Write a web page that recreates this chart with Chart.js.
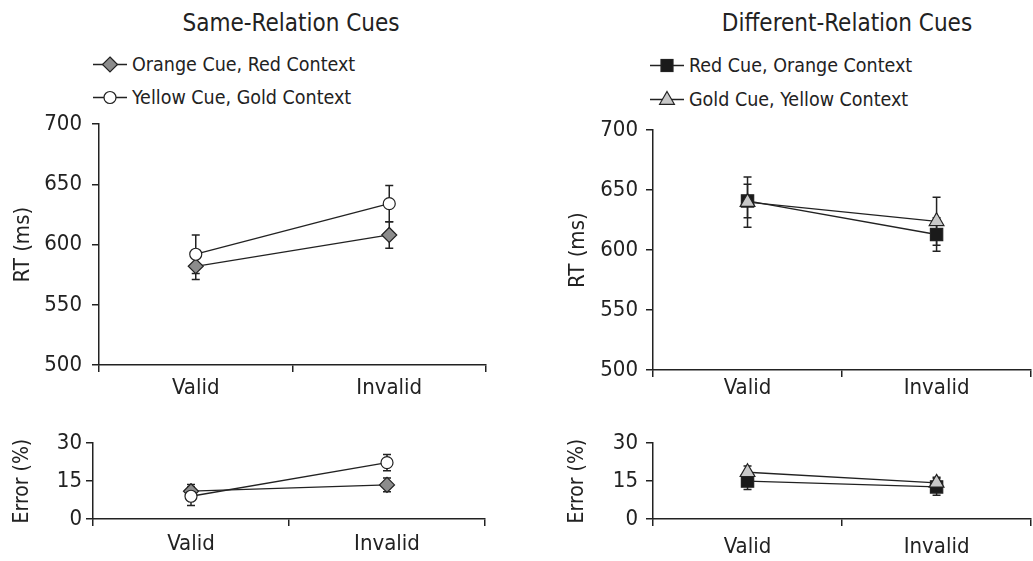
<!DOCTYPE html>
<html>
<head>
<meta charset="utf-8">
<script src="https://cdn.jsdelivr.net/npm/chart.js@4.4.1/dist/chart.umd.min.js"></script>
<style>
  html, body { margin: 0; padding: 0; background: #fff; overflow: hidden; }
  body { width: 1033px; height: 561px; position: relative; font-family: "DejaVu Sans Condensed", "DejaVu Sans", sans-serif; color: #222; }
  .panel { position: absolute; }
  .title { position: absolute; font-size: 24px; white-space: nowrap; transform: translateX(-50%); }
  .legend-item { position: absolute; font-size: 19.5px; white-space: nowrap; display: flex; align-items: center; }
  .legend-item svg { margin-right: 5px; }
</style>
</head>
<body>
<div class="title" style="left:291px; top:9px;">Same-Relation Cues</div>
<div class="title" style="left:847px; top:9px;">Different-Relation Cues</div>
<div id="legendSame"></div>
<div id="legendDiff"></div>

<div class="panel" style="left:0; top:101px;"><canvas id="sameRT" width="500" height="309"></canvas></div>
<div class="panel" style="left:560px; top:109px;"><canvas id="diffRT" width="481" height="306"></canvas></div>
<div class="panel" style="left:0; top:426px;"><canvas id="sameErr" width="500" height="135"></canvas></div>
<div class="panel" style="left:560px; top:422px;"><canvas id="diffErr" width="481" height="139"></canvas></div>

<script>
// cue conditions on the x axis
const categories = ['Valid', 'Invalid'];
const sameNames = ['Orange Cue, Red Context', 'Yellow Cue, Gold Context'];
const diffNames = ['Red Cue, Orange Context', 'Gold Cue, Yellow Context'];

// reaction times (ms) and error bar half-widths
const orangeRedRT = [582, 608];
const orangeRedRTBar = [11, 11];
const yellowGoldRT = [592, 634];
const yellowGoldRTBar = [16, 15];
const redOrangeRT = [641, 613];
const redOrangeRTBar = [14, 14];
const goldYellowRT = [640, 624];
const goldYellowRTBar = [21, 20];

// error rates (%) and error bar half-widths
const orangeRedErr = [11, 13.5];
const orangeRedErrBar = [2.7, 2.7];
const yellowGoldErr = [9, 22.3];
const yellowGoldErrBar = [3.7, 3.2];
const redOrangeErr = [15, 12.7];
const redOrangeErrBar = [3.3, 3.3];
const goldYellowErr = [18.5, 14.3];
const goldYellowErrBar = [2.5, 2.2];

const rtTicks = [500, 550, 600, 650, 700];
const errTicks = [0, 15, 30];

const FONT = '"DejaVu Sans Condensed", "DejaVu Sans", sans-serif';
const INK = '#222';

// marker styles per condition
const styles = {
  orangeRed: { pointStyle: 'rectRot', radius: 7.5, fill: '#8c8c8c' },
  yellowGold: { pointStyle: 'circle', radius: 6, fill: '#ffffff' },
  redOrange: { pointStyle: 'rect', radius: 8.7, fill: '#1a1a1a' },
  goldYellow: { pointStyle: 'triangle', radius: 8.5, fill: '#c8c8c8' }
};

// vertical error bars with caps, drawn under the markers
const errorBars = {
  id: 'errorBars',
  beforeDatasetsDraw(chart) {
    const ctx = chart.ctx;
    const yScale = chart.scales.y;
    chart.data.datasets.forEach((ds, i) => {
      const meta = chart.getDatasetMeta(i);
      meta.data.forEach((pt, j) => {
        const v = ds.data[j];
        const e = ds.bars[j];
        const top = yScale.getPixelForValue(v + e);
        const bot = yScale.getPixelForValue(v - e);
        ctx.save();
        ctx.strokeStyle = INK;
        ctx.lineWidth = 1.5;
        ctx.beginPath();
        ctx.moveTo(pt.x, top); ctx.lineTo(pt.x, bot);
        ctx.moveTo(pt.x - 4, top); ctx.lineTo(pt.x + 4, top);
        ctx.moveTo(pt.x - 4, bot); ctx.lineTo(pt.x + 4, bot);
        ctx.stroke();
        ctx.restore();
      });
    });
  }
};

function makeDataset(label, values, bars, style, order) {
  return {
    label: label,
    data: values,
    bars: bars,
    order: order,
    borderColor: INK,
    borderWidth: 1.3,
    pointStyle: style.pointStyle,
    pointRadius: style.radius,
    pointBackgroundColor: style.fill,
    pointBorderColor: INK,
    pointBorderWidth: 1.2,
    tension: 0,
    fill: false
  };
}

function makeChart(id, datasets, opts) {
  const ctx = document.getElementById(id).getContext('2d');
  return new Chart(ctx, {
    type: 'line',
    data: { labels: categories, datasets: datasets },
    options: {
      responsive: false,
      animation: false,
      layout: { padding: { top: 0, right: opts.padRight, left: 0, bottom: 0 } },
      plugins: { legend: { display: false }, tooltip: { enabled: false }, title: { display: false } },
      scales: {
        x: {
          type: 'category',
          offset: true,
          grid: { offset: true, drawOnChartArea: false, tickLength: 7, color: INK, lineWidth: 1.5 },
          border: { color: INK, width: 1.5 },
          ticks: { color: INK, padding: opts.xPad, font: { family: FONT, size: 22 } },
          afterFit: s => { s.height = opts.xHeight; }
        },
        y: {
          min: opts.ticks[0],
          max: opts.ticks[opts.ticks.length - 1],
          afterBuildTicks: s => { s.ticks = opts.ticks.map(v => ({ value: v })); },
          grid: { drawOnChartArea: false, tickLength: 7, color: INK, lineWidth: 1.5 },
          border: { color: INK, width: 1.5 },
          ticks: { color: INK, padding: opts.yPad, font: { family: FONT, size: 22 } },
          title: { display: true, text: opts.yTitle, color: INK, padding: { top: opts.titlePad, bottom: 0 }, font: { family: FONT, size: opts.titleSize } },
          afterFit: s => { s.width = opts.yWidth; }
        }
      }
    },
    plugins: [errorBars]
  });
}

makeChart('sameRT', [
  makeDataset(sameNames[0], orangeRedRT, orangeRedRTBar, styles.orangeRed, 2),
  makeDataset(sameNames[1], yellowGoldRT, yellowGoldRTBar, styles.yellowGold, 1)
], { ticks: rtTicks, yTitle: 'RT (ms)', titleSize: 22, titlePad: 10, yWidth: 99, yPad: 10, xHeight: 45, xPad: 3, padRight: 14 });

makeChart('diffRT', [
  makeDataset(diffNames[0], redOrangeRT, redOrangeRTBar, styles.redOrange, 2),
  makeDataset(diffNames[1], goldYellowRT, goldYellowRTBar, styles.goldYellow, 1)
], { ticks: rtTicks, yTitle: 'RT (ms)', titleSize: 22, titlePad: 5, yWidth: 93, yPad: 8, xHeight: 45, xPad: -2, padRight: 0 });

makeChart('sameErr', [
  makeDataset(sameNames[0], orangeRedErr, orangeRedErrBar, styles.orangeRed, 2),
  makeDataset(sameNames[1], yellowGoldErr, yellowGoldErrBar, styles.yellowGold, 1)
], { ticks: errTicks, yTitle: 'Error (%)', titleSize: 21, titlePad: 10, yWidth: 93, yPad: 4, xHeight: 42, xPad: 5, padRight: 15 });

makeChart('diffErr', [
  makeDataset(diffNames[0], redOrangeErr, redOrangeErrBar, styles.redOrange, 2),
  makeDataset(diffNames[1], goldYellowErr, goldYellowErrBar, styles.goldYellow, 1)
], { ticks: errTicks, yTitle: 'Error (%)', titleSize: 21, titlePad: 5, yWidth: 93, yPad: 8, xHeight: 42, xPad: 8, padRight: 0 });

// legends: short line with the series marker, then the label
function markerSvg(style) {
  let shape = '';
  if (style.pointStyle === 'rectRot') {
    shape = '<polygon points="17,3 24.5,10.5 17,18 9.5,10.5" fill="' + style.fill + '" stroke="' + INK + '" stroke-width="1.2"/>';
  } else if (style.pointStyle === 'circle') {
    shape = '<circle cx="17" cy="10.5" r="6" fill="' + style.fill + '" stroke="' + INK + '" stroke-width="1.2"/>';
  } else if (style.pointStyle === 'rect') {
    shape = '<rect x="11" y="4.5" width="12" height="12" fill="' + style.fill + '" stroke="' + INK + '" stroke-width="1.2"/>';
  } else {
    shape = '<polygon points="17,2.5 24.4,15.3 9.6,15.3" fill="' + style.fill + '" stroke="' + INK + '" stroke-width="1.2"/>';
  }
  return '<svg width="34" height="21"><line x1="0" y1="10.5" x2="34" y2="10.5" stroke="' + INK + '" stroke-width="1.3"/>' + shape + '</svg>';
}

function buildLegend(id, names, styleList, left, tops) {
  const box = document.getElementById(id);
  names.forEach((name, i) => {
    const item = document.createElement('div');
    item.className = 'legend-item';
    item.style.left = left + 'px';
    item.style.top = tops[i] + 'px';
    item.innerHTML = markerSvg(styleList[i]) + '<span>' + name + '</span>';
    box.appendChild(item);
  });
}

buildLegend('legendSame', sameNames, [styles.orangeRed, styles.yellowGold], 93, [53, 86]);
buildLegend('legendDiff', diffNames, [styles.redOrange, styles.goldYellow], 650, [54, 88]);
</script>
</body>
</html>
